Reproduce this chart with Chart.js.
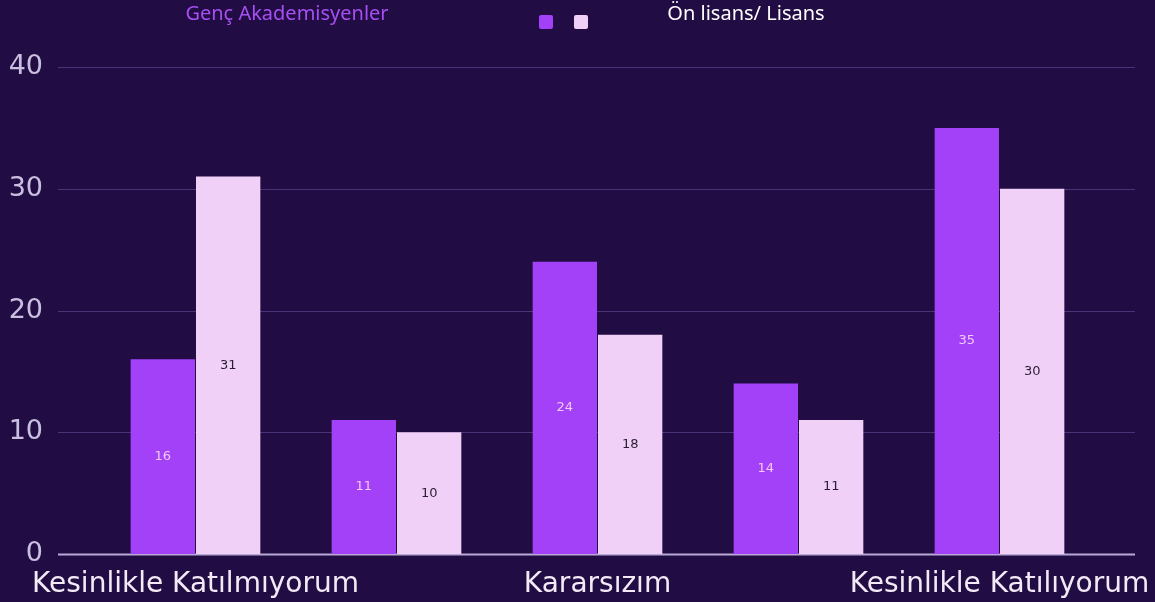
<!DOCTYPE html>
<html>
<head>
<meta charset="utf-8">
<script src="https://cdn.jsdelivr.net/npm/chart.js@4"></script>
<style>
html,body{margin:0;padding:0;background:#220c44;}
#wrap{width:1155px;height:602px;}
</style>
</head>
<body>
<div id="wrap"><canvas id="c" width="1155" height="602"></canvas></div>
<script>
const categories = ["Kesinlikle Katılmıyorum", "Katılmıyorum", "Kararsızım", "Katılıyorum", "Kesinlikle Katılıyorum"];
const seriesNames = ["Genç Akademisyenler", "Ön lisans/ Lisans"];
const gencAkademisyenler = [16, 11, 24, 14, 35];
const onLisansLisans = [31, 10, 18, 11, 30];
const yTicks = [0, 10, 20, 30, 40];

const BG = '#220c44';
const PURPLE = '#a241f7';
const LIGHT = '#f0d0f7';

const bgPlugin = {
  id: 'bg',
  beforeDraw(chart) {
    const ctx = chart.ctx;
    ctx.save();
    ctx.fillStyle = BG;
    ctx.fillRect(0, 0, chart.width, chart.height);
    ctx.restore();
  }
};

const gridPlugin = {
  id: 'customGrid',
  beforeDatasetsDraw(chart) {
    const ctx = chart.ctx;
    const y = chart.scales.y;
    ctx.save();
    yTicks.forEach(v => {
      const py = Math.round(y.getPixelForValue(v)) + 0.5;
      ctx.beginPath();
      ctx.strokeStyle = v === 0 ? '#b9a9d6' : '#4a3377';
      ctx.lineWidth = v === 0 ? 2 : 1.2;
      ctx.moveTo(58, py);
      ctx.lineTo(1135, py);
      ctx.stroke();
    });
    ctx.restore();
  }
};

const valueLabelPlugin = {
  id: 'valueLabels',
  afterDatasetsDraw(chart) {
    const ctx = chart.ctx;
    ctx.save();
    ctx.font = '13px "DejaVu Sans"';
    ctx.textAlign = 'center';
    ctx.textBaseline = 'middle';
    chart.data.datasets.forEach((ds, di) => {
      const meta = chart.getDatasetMeta(di);
      meta.data.forEach((bar, i) => {
        const p = bar.getProps(['x', 'y', 'base'], true);
        ctx.fillStyle = di === 0 ? '#f3c8f3' : '#2a1d33';
        ctx.fillText(String(ds.data[i]), p.x, (p.y + p.base) / 2);
      });
    });
    ctx.restore();
  }
};

const legendPlugin = {
  id: 'customLegend',
  afterDraw(chart) {
    const ctx = chart.ctx;
    ctx.save();
    ctx.textBaseline = 'middle';
    ctx.font = '20px "Noto Sans"';
    ctx.textAlign = 'center';
    ctx.fillStyle = '#a64ff2';
    ctx.fillText(seriesNames[0], 287, 14);
    ctx.fillStyle = '#ffffff';
    ctx.fillText(seriesNames[1], 746, 14);
    const colors = [PURPLE, LIGHT];
    [546, 581].forEach((cx, i) => {
      ctx.fillStyle = colors[i];
      ctx.beginPath();
      if (ctx.roundRect) ctx.roundRect(cx - 7, 15, 14, 14, 2); else ctx.rect(cx - 7, 15, 14, 14);
      ctx.fill();
    });
    ctx.restore();
  }
};

new Chart(document.getElementById('c'), {
  type: 'bar',
  data: {
    labels: categories,
    datasets: [
      { label: seriesNames[0], data: gencAkademisyenler, backgroundColor: PURPLE },
      { label: seriesNames[1], data: onLisansLisans, backgroundColor: LIGHT }
    ]
  },
  options: {
    responsive: false,
    animation: false,
    devicePixelRatio: 1,
    layout: { padding: { top: 67, right: 55, left: 0, bottom: 0 } },
    datasets: { bar: { categoryPercentage: 0.65, barPercentage: 0.985 } },
    plugins: { legend: { display: false }, tooltip: { enabled: false } },
    scales: {
      x: {
        grid: { display: false },
        border: { display: false },
        afterFit(scale) { scale.height = 48; scale.paddingLeft = 0; scale.paddingRight = 0; },
        ticks: {
          color: '#f2eaf6',
          font: { family: 'DejaVu Sans', size: 28 },
          maxRotation: 0,
          autoSkip: true,
          padding: 6
        }
      },
      y: {
        min: 0,
        max: 40,
        afterBuildTicks(scale) { scale.ticks = yTicks.map(v => ({ value: v })); },
        afterFit(scale) { scale.width = 95; scale.paddingTop = 0; scale.paddingBottom = 0; },
        grid: { display: false },
        border: { display: false },
        ticks: {
          color: '#c9bfe0',
          font: { family: 'DejaVu Sans', size: 27 },
          padding: 44
        }
      }
    }
  },
  plugins: [bgPlugin, gridPlugin, valueLabelPlugin, legendPlugin]
});
</script>
</body>
</html>
